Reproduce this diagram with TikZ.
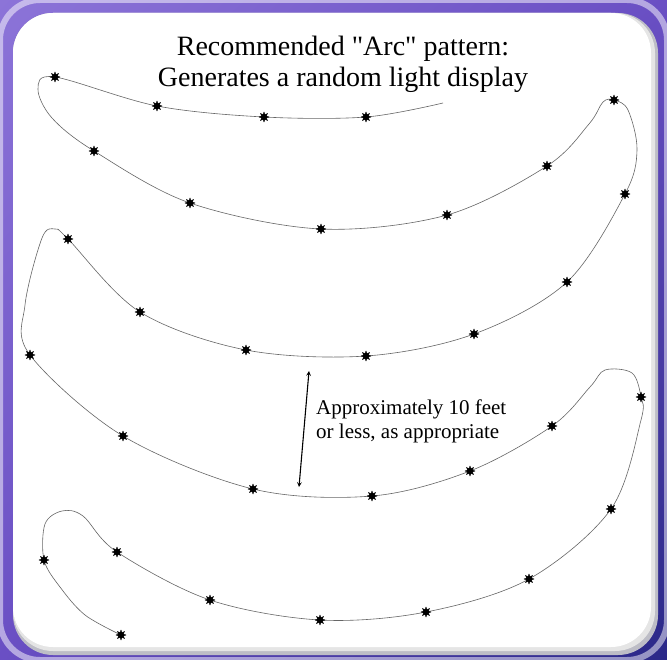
\documentclass[tikz,border=0pt]{standalone}
\usepackage{fontspec}
\setmainfont{Liberation Serif}
\usetikzlibrary{shapes.geometric}
\usetikzlibrary{backgrounds}
\usetikzlibrary{shadings}

\definecolor{framelight}{HTML}{8C74D8}
\definecolor{frameviolet}{HTML}{6A4FC4}
\definecolor{framenavy}{HTML}{2A2888}
\definecolor{panelshade}{HTML}{BDBDC6}

\begin{document}
\begin{tikzpicture}[x=1pt,y=-1pt,bulb/.style={star,star points=8,star point ratio=1.9,fill=black,draw=black,line width=0.3pt,inner sep=0pt,minimum size=10pt},wire/.style={draw=black!60,line width=0.6pt},gap/.style={<->,>=stealth,line width=1.1pt}]

	\useasboundingbox (0,0) rectangle (667,660);

	% frame and white panel
	\begin{pgfonlayer}{background}
	\shade[upper left=framelight,upper right=frameviolet,lower left=frameviolet,lower right=framenavy] (0,0) rectangle (667,660);
	\draw[white,line width=6pt,opacity=0.5,rounded corners=40] (0,0) rectangle (667,660);
	\fill[panelshade,rounded corners=40] (13,13) rectangle (658,655);
	\fill[black!10,rounded corners=40] (13,13) rectangle (655,651);
	\fill[white,rounded corners=40] (13,13) rectangle (651,647);
	\end{pgfonlayer}

	\node[font=\fontsize{28}{31}\selectfont,align=center,anchor=north,inner sep=0pt] at (343,36) (title) {Recommended \textquotedbl Arc\textquotedbl{} pattern:\\Generates a random light display};

	% lights
	\node[bulb] at (366,117) (l1) {};
	\node[bulb] at (264,117) (l2) {};
	\node[bulb] at (157,106) (l3) {};
	\node[bulb] at (55,77) (l4) {};
	\node[bulb] at (94,151) (l5) {};
	\node[bulb] at (190,203) (l6) {};
	\node[bulb] at (321,229) (l7) {};
	\node[bulb] at (447,215) (l8) {};
	\node[bulb] at (547,166) (l9) {};
	\node[bulb] at (614,100) (l10) {};
	\node[bulb] at (625,194) (l11) {};
	\node[bulb] at (567,282) (l12) {};
	\node[bulb] at (474,334) (l13) {};
	\node[bulb] at (366,356) (l14) {};
	\node[bulb] at (246,350) (l15) {};
	\node[bulb] at (140,312) (l16) {};
	\node[bulb] at (68,239) (l17) {};
	\node[bulb] at (30,355) (l18) {};
	\node[bulb] at (123,436) (l19) {};
	\node[bulb] at (253,489) (l20) {};
	\node[bulb] at (372,496) (l21) {};
	\node[bulb] at (470,471) (l22) {};
	\node[bulb] at (552,426) (l23) {};
	\node[bulb] at (641,397) (l24) {};
	\node[bulb] at (611,509) (l25) {};
	\node[bulb] at (529,579) (l26) {};
	\node[bulb] at (426,612) (l27) {};
	\node[bulb] at (320,620) (l28) {};
	\node[bulb] at (210,600) (l29) {};
	\node[bulb] at (117,552) (l30) {};
	\node[bulb] at (44,560) (l31) {};
	\node[bulb] at (121,635) (l32) {};

	% bends of the string
	\coordinate (start) at (443,103);
	\coordinate (a1) at (38,89);
	\coordinate (a2) at (52,118);
	\coordinate (b1) at (589,124);
	\coordinate (b2) at (603,102);
	\coordinate (b3) at (628,110);
	\coordinate (b4) at (637,150);
	\coordinate (c1) at (55,229);
	\coordinate (c2) at (42,238);
	\coordinate (c3) at (25,305);
	\coordinate (d1) at (590,387);
	\coordinate (d2) at (605,370);
	\coordinate (d3) at (632,373);
	\coordinate (d4) at (641,420);
	\coordinate (e1) at (83,516);
	\coordinate (e2) at (62,511);
	\coordinate (e3) at (45,524);
	\coordinate (e4) at (60,587);
	\coordinate (e5) at (85,615);

	\begin{pgfonlayer}{background}
	\draw[wire] plot[smooth,tension=0.55] coordinates {(start) (l1) (l2) (l3) (l4) (a1) (a2) (l5) (l6) (l7) (l8) (l9) (b1) (b2) (l10) (b3) (b4) (l11) (l12) (l13) (l14) (l15) (l16) (l17) (c1) (c2) (c3) (l18) (l19) (l20) (l21) (l22) (l23) (d1) (d2) (d3) (l24) (d4) (l25) (l26) (l27) (l28) (l29) (l30) (e1) (e2) (e3) (l31) (e4) (e5) (l32)};
	\end{pgfonlayer}

	% spacing between rows
	\coordinate (top) at (309,371);
	\coordinate (bottom) at (299,487);
	\draw[gap] (top) -- (bottom);
	\node[font=\fontsize{21}{23.5}\selectfont,align=left,anchor=north west,inner sep=0pt] at (316,400) (note) {Approximately 10 feet\\or less, as appropriate};

\end{tikzpicture}
\end{document}
